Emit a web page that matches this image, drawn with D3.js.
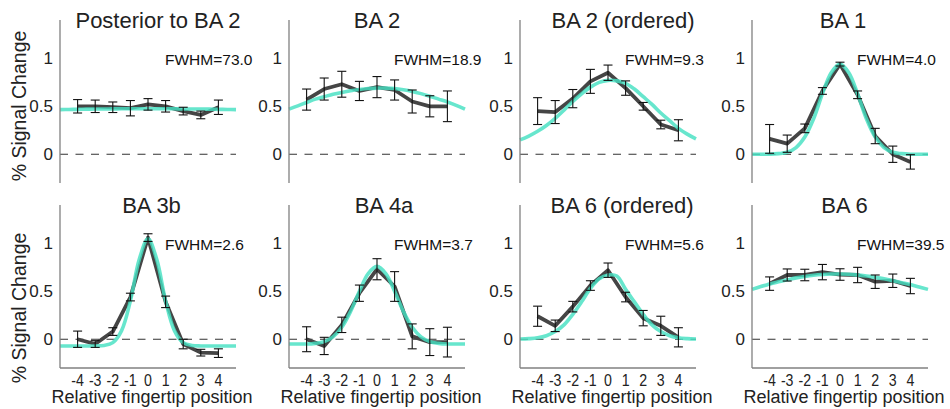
<!DOCTYPE html>
<html>
<head>
<meta charset="utf-8">
<script src="https://cdn.jsdelivr.net/npm/d3@7/dist/d3.min.js"></script>
<style>
  body { margin: 0; background: #fff; }
  svg { display: block; font-family: "Liberation Sans", Arial, sans-serif; }
</style>
</head>
<body>
<div id="chart"></div>
<script>
// --- DATA ---
const positions = [-4, -3, -2, -1, 0, 1, 2, 3, 4];
const yTicks = [0, 0.5, 1];
const fitX = [-5, -4.5, -4, -3.5, -3, -2.5, -2, -1.5, -1, -0.5, 0, 0.5, 1, 1.5, 2, 2.5, 3, 3.5, 4, 4.5, 5];

const titles = ["Posterior to BA 2", "BA 2", "BA 2 (ordered)", "BA 1",
                "BA 3b", "BA 4a", "BA 6 (ordered)", "BA 6"];
const fwhmLabels = ["FWHM=73.0", "FWHM=18.9", "FWHM=9.3", "FWHM=4.0",
                    "FWHM=2.6", "FWHM=3.7", "FWHM=5.6", "FWHM=39.5"];

// mean % signal change at each relative fingertip position
const meanPost  = [0.50, 0.50, 0.49, 0.48, 0.52, 0.50, 0.45, 0.41, 0.49];
const meanBA2   = [0.57, 0.68, 0.73, 0.66, 0.70, 0.67, 0.55, 0.50, 0.50];
const meanBA2o  = [0.45, 0.44, 0.58, 0.76, 0.85, 0.69, 0.50, 0.31, 0.25];
const meanBA1   = [0.16, 0.11, 0.27, 0.66, 0.94, 0.62, 0.19, 0.00, -0.08];
const meanBA3b  = [0.00, -0.05, 0.08, 0.44, 1.06, 0.39, -0.05, -0.14, -0.145];
const meanBA4a  = [0.00, -0.07, 0.15, 0.48, 0.73, 0.55, 0.03, -0.03, -0.03];
const meanBA6o  = [0.24, 0.14, 0.34, 0.56, 0.72, 0.44, 0.22, 0.14, 0.02];
const meanBA6   = [0.58, 0.67, 0.67, 0.70, 0.675, 0.67, 0.60, 0.61, 0.555];

// standard error (half length of each bar)
const errPost  = [0.07, 0.065, 0.055, 0.08, 0.06, 0.06, 0.04, 0.04, 0.075];
const errBA2   = [0.11, 0.115, 0.135, 0.10, 0.11, 0.105, 0.12, 0.11, 0.16];
const errBA2o  = [0.14, 0.12, 0.095, 0.125, 0.08, 0.075, 0.04, 0.045, 0.11];
const errBA1   = [0.15, 0.09, 0.045, 0.035, 0.02, 0.04, 0.08, 0.085, 0.075];
const errBA3b  = [0.085, 0.035, 0.04, 0.04, 0.04, 0.06, 0.05, 0.035, 0.045];
const errBA4a  = [0.13, 0.09, 0.08, 0.085, 0.11, 0.155, 0.13, 0.14, 0.155];
const errBA6o  = [0.105, 0.06, 0.055, 0.05, 0.075, 0.05, 0.08, 0.10, 0.10];
const errBA6   = [0.07, 0.063, 0.06, 0.08, 0.06, 0.08, 0.07, 0.07, 0.08];

const fitPost = [0.465, 0.467, 0.468, 0.47, 0.471, 0.472, 0.473, 0.474, 0.474, 0.475, 0.475,
                 0.475, 0.474, 0.474, 0.473, 0.472, 0.471, 0.47, 0.468, 0.467, 0.465];
const fitBA2  = [0.47, 0.505, 0.54, 0.575, 0.60, 0.625, 0.645, 0.662, 0.675, 0.685, 0.69,
                 0.69, 0.685, 0.672, 0.655, 0.632, 0.605, 0.575, 0.545, 0.51, 0.47];
const fitBA2o = [0.15, 0.19, 0.24, 0.30, 0.375, 0.46, 0.55, 0.63, 0.70, 0.75, 0.77,
                 0.765, 0.74, 0.68, 0.60, 0.52, 0.43, 0.35, 0.27, 0.21, 0.16];
const fitBA1  = [0, 0, 0, 0.006, 0.02, 0.07, 0.18, 0.37, 0.63, 0.85, 0.94,
                 0.85, 0.63, 0.37, 0.18, 0.07, 0.02, 0.006, 0, 0, 0];
const fitBA3b = [-0.07, -0.07, -0.07, -0.07, -0.07, -0.065, -0.035, 0.09, 0.40, 0.83, 1.05,
                 0.83, 0.40, 0.09, -0.035, -0.065, -0.07, -0.07, -0.07, -0.07, -0.07];
const fitBA4a = [-0.05, -0.05, -0.05, -0.043, -0.025, 0.025, 0.125, 0.29, 0.50, 0.685, 0.76,
                 0.685, 0.50, 0.29, 0.125, 0.025, -0.025, -0.043, -0.05, -0.05, -0.05];
const fitBA6o = [0.002, 0.006, 0.015, 0.037, 0.08, 0.15, 0.26, 0.39, 0.53, 0.63, 0.67,
                 0.66, 0.52, 0.39, 0.26, 0.15, 0.08, 0.037, 0.015, 0.006, 0.002];
const fitBA6  = [0.52, 0.55, 0.575, 0.60, 0.62, 0.64, 0.655, 0.667, 0.675, 0.68, 0.68,
                 0.678, 0.67, 0.66, 0.645, 0.63, 0.61, 0.59, 0.57, 0.545, 0.52];

const panelMeans = [meanPost, meanBA2, meanBA2o, meanBA1, meanBA3b, meanBA4a, meanBA6o, meanBA6];
const panelErrs  = [errPost, errBA2, errBA2o, errBA1, errBA3b, errBA4a, errBA6o, errBA6];
const panelFits  = [fitPost, fitBA2, fitBA2o, fitBA1, fitBA3b, fitBA4a, fitBA6o, fitBA6];

// --- SETUP ---
const width = 950;
const height = 409;
const colLeft = [60, 289, 520, 752];
const rowTop = [20, 205];
const plotW = 176;
const plotH = 163;
const titleX = [158, 377, 623, 843, 151.5, 384, 622, 844.5];
const fitColor = "#45e0c2";

const svg = d3.select("#chart")
    .append("svg")
    .attr("width", width)
    .attr("height", height)
    .attr("viewBox", [0, 0, width, height]);

svg.append("rect").attr("width", width).attr("height", height).attr("fill", "#fff");

titles.forEach((title, i) => {
    const row = Math.floor(i / 4);
    const col = i % 4;
    const left = colLeft[col];
    const top = rowTop[row];

    const x = d3.scaleLinear().domain([-5, 5]).range([left, left + plotW]);
    const y = d3.scaleLinear().domain([-0.3, 1.4]).range([top + plotH, top]);

    const g = svg.append("g");

    // zero line (dashed)
    g.append("line")
        .attr("x1", x(-5)).attr("x2", x(5))
        .attr("y1", y(0)).attr("y2", y(0))
        .attr("stroke", "#333")
        .attr("stroke-width", 1.2)
        .attr("stroke-dasharray", "8,7.5");

    const pts = positions.map((p, j) => ({ p, m: panelMeans[i][j], e: panelErrs[i][j] }));

    // mean line
    g.append("path")
        .datum(pts)
        .attr("fill", "none")
        .attr("stroke", "#454545")
        .attr("stroke-width", 3.8)
        .attr("stroke-linejoin", "round")
        .attr("d", d3.line().x(d => x(d.p)).y(d => y(d.m)));

    // fit curve
    const fitPts = fitX.map((fx, j) => [fx, panelFits[i][j]]);
    g.append("path")
        .datum(fitPts)
        .attr("fill", "none")
        .attr("stroke", fitColor)
        .attr("stroke-opacity", 0.82)
        .attr("stroke-width", 3.6)
        .attr("d", d3.line().x(d => x(d[0])).y(d => y(d[1])).curve(d3.curveCatmullRom));

    // error bars
    const bars = g.append("g")
        .attr("stroke", "#111")
        .attr("stroke-width", 1.1);
    bars.selectAll(".v")
        .data(pts)
        .join("line")
        .attr("x1", d => x(d.p)).attr("x2", d => x(d.p))
        .attr("y1", d => y(d.m - d.e)).attr("y2", d => y(d.m + d.e));
    [1, -1].forEach(s => {
        bars.selectAll(".c" + s)
            .data(pts)
            .join("line")
            .attr("x1", d => x(d.p) - 4.5).attr("x2", d => x(d.p) + 4.5)
            .attr("y1", d => y(d.m + s * d.e)).attr("y2", d => y(d.m + s * d.e));
    });

    // y axis line + tick labels
    g.append("line")
        .attr("x1", left).attr("x2", left)
        .attr("y1", top).attr("y2", top + plotH)
        .attr("stroke", "#808080")
        .attr("stroke-width", 1.3);
    g.selectAll(".ytick")
        .data(yTicks)
        .join("text")
        .attr("x", left - 7)
        .attr("y", d => y(d))
        .attr("dy", "0.36em")
        .attr("text-anchor", "end")
        .attr("font-size", "17px")
        .attr("fill", "#222")
        .text(d => d);

    // x axis only on bottom row
    if (row === 1) {
        g.append("line")
            .attr("x1", left).attr("x2", left + plotW)
            .attr("y1", top + plotH).attr("y2", top + plotH)
            .attr("stroke", "#808080")
            .attr("stroke-width", 1.3);
        // narrow glyphs so neighbouring labels keep a gap, as in the figure
        g.selectAll(".xtick")
            .data(positions)
            .join("text")
            .attr("transform", d => `translate(${x(d)}, 386) scale(0.86, 1)`)
            .attr("text-anchor", "middle")
            .attr("font-size", "16.5px")
            .attr("fill", "#222")
            .text(d => d);
        g.append("text")
            .attr("x", left + plotW / 2 + 4)
            .attr("y", 403)
            .attr("text-anchor", "middle")
            .attr("font-size", "18px")
            .attr("fill", "#222")
            .text("Relative fingertip position");
    }

    // title
    g.append("text")
        .attr("x", titleX[i])
        .attr("y", row === 0 ? 27.5 : 213)
        .attr("text-anchor", "middle")
        .attr("font-size", "22px")
        .attr("fill", "#222")
        .text(title);

    // FWHM label
    g.append("text")
        .attr("x", left + 105)
        .attr("y", row === 0 ? 65 : 250)
        .attr("font-size", "15.5px")
        .attr("fill", "#111")
        .text(fwhmLabels[i]);
});

// y axis labels, first column
[106, 308].forEach(cy => {
    svg.append("text")
        .attr("transform", `translate(26, ${cy}) rotate(-90)`)
        .attr("text-anchor", "middle")
        .attr("font-size", "19.5px")
        .attr("fill", "#222")
        .text("% Signal Change");
});
</script>
</body>
</html>
